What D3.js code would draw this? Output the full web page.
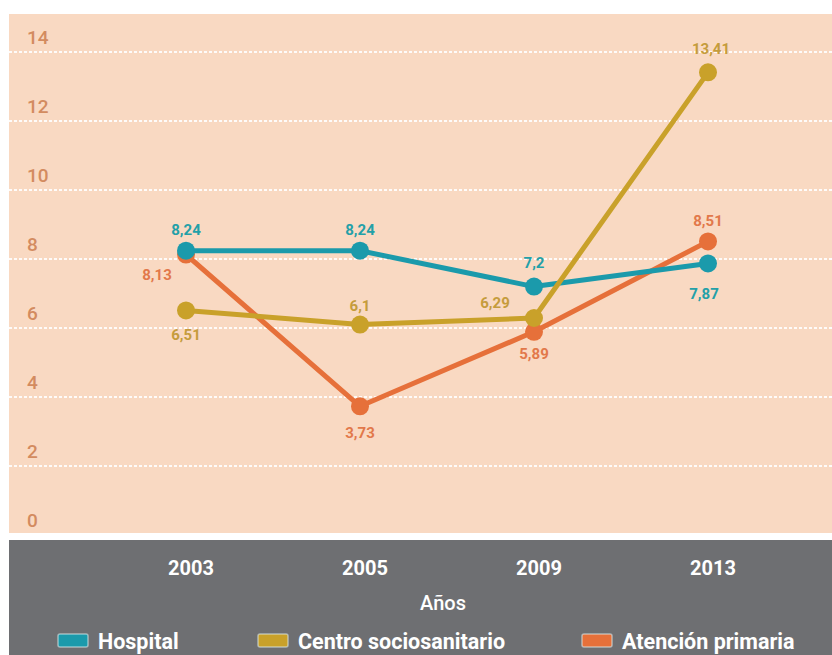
<!DOCTYPE html>
<html>
<head>
<meta charset="utf-8">
<script src="https://cdn.jsdelivr.net/npm/d3@7/dist/d3.min.js"></script>
<style>
  html, body { margin: 0; padding: 0; background: #ffffff; }
  svg { display: block; }
  text { font-family: "Roboto", "Liberation Sans", sans-serif; }
</style>
</head>
<body>
<svg id="chart" width="832" height="655"></svg>
<script>
const years = ["2003", "2005", "2009", "2013"];
const hospital = [8.24, 8.24, 7.2, 7.87];
const centro = [6.51, 6.1, 6.29, 13.41];
const atencion = [8.13, 3.73, 5.89, 8.51];
const seriesNames = ["Hospital", "Centro sociosanitario", "Atención primaria"];
const yTicks = [0, 2, 4, 6, 8, 10, 12, 14];
const xTitle = "Años";

const colors = { "Hospital": "#1b9aab", "Centro sociosanitario": "#c9a12a", "Atención primaria": "#e6703a" };
const labelColors = { "Hospital": "#23a0a8", "Centro sociosanitario": "#c59c3c", "Atención primaria": "#e2784a" };

// label placement: [dx, dy] relative to point
const labelOffsets = {
  "Hospital": [[0, -16], [0, -16], [0, -19], [-4, 36]],
  "Centro sociosanitario": [[0, 30], [0, -14], [-39, -10], [3, -18]],
  "Atención primaria": [[-29, 25], [0, 32], [0, 27], [0, -15]]
};

const svg = d3.select("#chart");
const W = 832, H = 655;

// backgrounds
svg.append("rect").attr("x", 9).attr("y", 14).attr("width", W - 9).attr("height", 519).attr("fill", "#f9d9c2");
svg.append("rect").attr("x", 9).attr("y", 540).attr("width", W - 9).attr("height", H - 540).attr("fill", "#6e6f72");

const x = d3.scalePoint().domain(years).range([186, 708]);
const y = d3.scaleLinear().domain([0, 14]).range([535, 52]);

// gridlines
svg.append("g").selectAll("line").data(yTicks.filter(d => d > 0)).join("line")
  .attr("x1", 9).attr("x2", W)
  .attr("y1", d => y(d)).attr("y2", d => y(d))
  .attr("stroke", "#ffffff").attr("stroke-width", 2.2)
  .attr("stroke-dasharray", "3,2").attr("opacity", 0.9);

// y tick labels
svg.append("g").selectAll("text").data(yTicks).join("text")
  .attr("x", 27).attr("y", d => y(d) - 8)
  .attr("fill", "#d38b5f").attr("font-size", 19).attr("font-weight", 500)
  .text(d => d);

const data = [
  { name: "Atención primaria", values: atencion },
  { name: "Hospital", values: hospital },
  { name: "Centro sociosanitario", values: centro }
];

const line = d3.line().x((d, i) => x(years[i])).y(d => y(d));

const g = svg.append("g");
data.forEach(s => {
  g.append("path").datum(s.values).attr("d", line)
    .attr("fill", "none").attr("stroke", colors[s.name]).attr("stroke-width", 5)
    .attr("stroke-linejoin", "round");
  g.selectAll(null).data(s.values).join("circle")
    .attr("cx", (d, i) => x(years[i])).attr("cy", d => y(d)).attr("r", 9)
    .attr("fill", colors[s.name]);
});

// data labels
data.forEach(s => {
  svg.append("g").selectAll("text").data(s.values).join("text")
    .attr("x", (d, i) => x(years[i]) + labelOffsets[s.name][i][0])
    .attr("y", (d, i) => y(d) + labelOffsets[s.name][i][1])
    .attr("text-anchor", "middle")
    .attr("fill", labelColors[s.name]).attr("font-size", 15).attr("font-weight", "bold")
    .text(d => String(d).replace(".", ","));
});

// x axis labels
svg.append("g").selectAll("text").data(years).join("text")
  .attr("x", d => x(d) + 5).attr("y", 575)
  .attr("text-anchor", "middle").attr("fill", "#ffffff")
  .attr("font-size", 20).attr("font-weight", "bold")
  .text(d => d);

svg.append("text").attr("x", 443).attr("y", 610).attr("text-anchor", "middle")
  .attr("fill", "#ffffff").attr("font-size", 20).attr("font-weight", 500).text(xTitle);

// legend
const legendX = [58, 258, 582];
const lg = svg.append("g").selectAll("g").data(seriesNames).join("g")
  .attr("transform", (d, i) => `translate(${legendX[i]},641)`);
lg.append("rect").attr("x", 0).attr("y", -7).attr("width", 30).attr("height", 13).attr("rx", 2)
  .attr("fill", d => colors[d]).attr("stroke", "#d9e6e8").attr("stroke-opacity", 0.6).attr("stroke-width", 1.5);
lg.append("text").attr("x", 40).attr("y", 8)
  .attr("fill", "#ffffff").attr("font-size", 21.5).attr("font-weight", "bold")
  .text(d => d);
</script>
</body>
</html>
